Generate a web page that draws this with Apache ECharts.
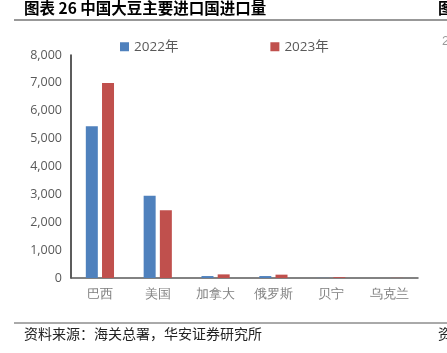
<!DOCTYPE html>
<html>
<head>
<meta charset="utf-8">
<script src="https://cdn.jsdelivr.net/npm/echarts@6/dist/echarts.min.js"></script>
<style>
  html, body { margin: 0; padding: 0; background: #fff; }
  #chart { width: 447px; height: 353px; }
</style>
</head>
<body>
<div id="chart"></div>
<script>
// 数据
const categories = ['巴西', '美国', '加拿大', '俄罗斯', '贝宁', '乌克兰'];
const seriesNames = ['2022年', '2023年'];
const values2022 = [5440, 2950, 70, 70, 5, 0];
const values2023 = [7000, 2430, 130, 120, 30, 5];
const yTicks = { min: 0, max: 8000, interval: 1000 };

const cjk = '"Noto Sans CJK SC", sans-serif';
const myChart = echarts.init(document.getElementById('chart'));

var option = {
  animation: false,
  textStyle: { fontFamily: cjk },
  legend: {
    data: seriesNames,
    top: 35,
    left: 115,
    itemGap: 92,
    itemWidth: 9,
    itemHeight: 9,
    icon: 'rect',
    textStyle: { color: '#595959', fontSize: 13.5, fontFamily: 'Open Sans, ' + cjk }
  },
  grid: { left: 71, right: 29, top: 55, bottom: 75 },
  xAxis: {
    type: 'category',
    data: categories,
    axisLine: { lineStyle: { color: '#595959', width: 1.5 } },
    axisTick: { show: false },
    axisLabel: { color: '#7f7f7f', fontSize: 13, margin: 10, fontFamily: 'serif' }
  },
  yAxis: {
    type: 'value',
    min: yTicks.min,
    max: yTicks.max,
    interval: yTicks.interval,
    axisLine: { show: true, lineStyle: { color: '#262626', width: 1.5 } },
    axisTick: { show: false },
    splitLine: { show: false },
    axisLabel: {
      color: '#595959',
      fontSize: 12.5,
      margin: 9,
      fontFamily: 'Open Sans, sans-serif',
      formatter: function (v) { return v.toLocaleString('en-US'); }
    }
  },
  series: [
    {
      name: seriesNames[0],
      type: 'bar',
      data: values2022,
      barWidth: 12,
      barGap: '35%',
      itemStyle: { color: '#4f81bd' }
    },
    {
      name: seriesNames[1],
      type: 'bar',
      data: values2023,
      barWidth: 12,
      itemStyle: { color: '#c0504d' }
    }
  ],
  graphic: [
    { type: 'text', left: 24, top: 0,
      style: { text: '图表 26 中国大豆主要进口国进口量', fontSize: 15.5, fontWeight: 'bold', fill: '#000', fontFamily: cjk } },
    { type: 'text', left: 438, top: 0,
      style: { text: '图', fontSize: 15.5, fontWeight: 'bold', fill: '#000', fontFamily: cjk } },
    { type: 'line', shape: { x1: 14, y1: 20, x2: 447, y2: 20 }, style: { stroke: '#333', lineWidth: 1.2 } },
    { type: 'text', left: 442, top: 35,
      style: { text: '2', fontSize: 13, fill: '#999' } },
    { type: 'line', shape: { x1: 14, y1: 323, x2: 447, y2: 323 }, style: { stroke: '#555', lineWidth: 1 } },
    { type: 'text', left: 24, top: 327,
      style: { text: '资料来源：海关总署，华安证券研究所', fontSize: 14, fill: '#222', fontFamily: cjk } },
    { type: 'text', left: 438, top: 327,
      style: { text: '资', fontSize: 14, fill: '#222', fontFamily: cjk } }
  ]
};
myChart.setOption(option);
</script>
</body>
</html>
